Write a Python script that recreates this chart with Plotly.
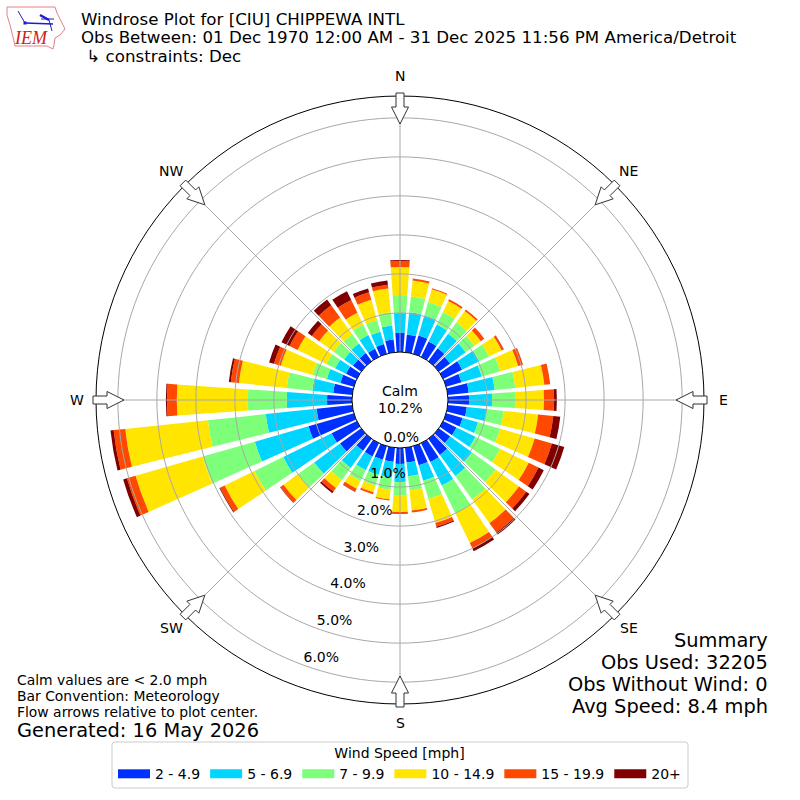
import math
import plotly.graph_objects as go

# percent of observations in each 10 degree bin, one list per speed class
directions = list(range(0, 360, 10))
speed_2_5 = [.49, .46, .49, .44, .41, .36, .54, .41, .54, .54, .49, .44, .38, .36, .51, .54, .51, .38,
             .41, .36, .36, .38, .38, .67, .72, 1.21, .92, .64, .49, .36, .31, .26, .26, .23, .26, .33]
speed_5_7 = [.51, .57, .54, .48, .46, .49, .49, .54, .67, .59, .51, .41, .54, .69, .67, .67, .41, .36,
             .46, .41, .41, .39, .54, .82, 1.38, 1.43, 1.31, 1.03, .54, .36, .31, .28, .30, .39, .33, .36]
speed_7_10 = [.46, .41, .35, .36, .36, .28, .28, .49, .53, .59, .44, .59, .70, .75, .74, .79, .49, .36,
              .34, .31, .28, .31, .39, .51, .82, 1.39, 1.49, 1.00, .66, .38, .25, .33, .29, .30, .31, .34]
speed_10_15 = [.72, .41, .34, .31, .36, .20, .36, .48, .75, .74, .89, .92, .82, .74, .75, .85, .64, .52,
               .43, .25, .18, .22, .25, .46, .85, 1.79, 2.13, 1.82, 1.23, .85, .82, .46, .53, .34, .54, .61]
speed_15_20 = [.15, .05, .03, .05, .05, .11, .05, .13, .15, .26, .39, .46, .28, .23, .30, .15, .10, .05,
               .05, .03, .05, .08, .11, .10, .13, .23, .30, .25, .21, .18, .23, .23, .39, .36, .20, .10]
speed_20_up = [.03, 0, 0, 0, 0, 0, .01, 0, 0, .07, .18, .33, .15, .10, .06, .08, .03, 0,
               0, 0, 0, .01, .05, .01, .02, .10, .08, .03, .05, .13, .23, .13, .18, .25, .10, .11]

series = [speed_2_5, speed_5_7, speed_7_10, speed_10_15, speed_15_20, speed_20_up]
labels = ["2 - 4.9", "5 - 6.9", "7 - 9.9", "10 - 14.9", "15 - 19.9", "20+"]
colors = ["#0030ff", "#00d5ff", "#7dff7a", "#ffe500", "#ff4800", "#800000"]

compass_deg = [0, 45, 90, 135, 180, 225, 270, 315]
compass_txt = ["N", "NE", "E", "SE", "S", "SW", "W", "NW"]
ring_pct = [0, 1, 2, 3, 4, 5, 6]
ring_txt = ["0.0%", "1.0%", "2.0%", "3.0%", "4.0%", "5.0%", "6.0%"]

FONT = "DejaVu Sans"
GRID = "#a8a8a8"
R_MAX = 6.56
CX, CY, R_PX = 400, 400, 304


def px(x, y):
    return x / 800, 1 - y / 800


def note(x, y, text, size, anchor="left"):
    fx, fy = px(x, y)
    fig.add_annotation(x=fx, y=fy, xref="paper", yref="paper", text=text, showarrow=False,
                       xanchor=anchor, yanchor="middle", align=anchor, borderpad=0,
                       font=dict(family=FONT, size=size, color="#000000"))


def svg_path(points, closed=True):
    d = "M" + " L".join(f"{px(x, y)[0]:.5f},{px(x, y)[1]:.5f}" for x, y in points)
    return d + (" Z" if closed else "")


def flow_arrow(deg):
    # outline in (radius px, side px), pointing at the plot center
    outline = [(307, -4), (293, -4), (293, -8.5), (276, 0), (293, 8.5), (293, 4), (307, 4)]
    a = math.radians(deg)
    pts = []
    for r, s in outline:
        pts.append((CX + r * math.sin(a) + s * math.cos(a), CY - r * math.cos(a) + s * math.sin(a)))
    return dict(type="path", path=svg_path(pts), xref="paper", yref="paper",
                fillcolor="#ffffff", line=dict(color="#333333", width=1))


def rounded_box(x0, y0, x1, y1, c):
    p = lambda x, y: "%.5f,%.5f" % px(x, y)
    return ("M" + p(x0 + c, y0) + " L" + p(x1 - c, y0) + " Q" + p(x1, y0) + " " + p(x1, y0 + c)
            + " L" + p(x1, y1 - c) + " Q" + p(x1, y1) + " " + p(x1 - c, y1)
            + " L" + p(x0 + c, y1) + " Q" + p(x0, y1) + " " + p(x0, y1 - c)
            + " L" + p(x0, y0 + c) + " Q" + p(x0, y0) + " " + p(x0 + c, y0) + " Z")


fig = go.Figure()

for vals, name, color in zip(series, labels, colors):
    fig.add_trace(go.Barpolar(r=vals, theta=directions, width=8, name=name, showlegend=False,
                              marker=dict(color=color, line=dict(width=0))))

# grid has to sit over the bars, the axis grid would land underneath
ring_theta = list(range(0, 361, 2))
for pct in ring_pct[1:]:
    fig.add_trace(go.Scatterpolar(r=[pct] * len(ring_theta), theta=ring_theta, mode="lines",
                                  line=dict(color=GRID, width=1), showlegend=False, hoverinfo="skip"))
for deg in compass_deg:
    fig.add_trace(go.Scatterpolar(r=[0, R_MAX], theta=[deg, deg], mode="lines",
                                  line=dict(color=GRID, width=1), showlegend=False, hoverinfo="skip"))

fig.add_trace(go.Scatterpolar(r=ring_pct, theta=[200] * len(ring_pct), text=ring_txt, mode="text",
                              textposition="top right", cliponaxis=False, showlegend=False,
                              textfont=dict(family=FONT, size=14, color="#000000")))

# legend swatches
for name, color in zip(labels, colors):
    fig.add_trace(go.Scatterpolar(r=[None], theta=[None], mode="lines", name=name,
                                  line=dict(color=color, width=9)))

fig.update_layout(
    width=800, height=800, margin=dict(l=0, r=0, t=0, b=0), paper_bgcolor="white",
    font=dict(family=FONT, size=14, color="#000000"),
    polar=dict(
        domain=dict(x=[96 / 800, 704 / 800], y=[96 / 800, 704 / 800]),
        hole=48 / 304, bgcolor="white", barmode="stack", gridshape="circular",
        angularaxis=dict(direction="clockwise", rotation=90, tickmode="array", tickvals=compass_deg,
                         ticktext=compass_txt, showgrid=False, showticklabels=False, ticks="",
                         linecolor="#000000", linewidth=1),
        radialaxis=dict(range=[0, R_MAX], showgrid=False, showticklabels=False, ticks="", showline=False),
    ),
    legend=dict(orientation="h", x=113 / 800, y=1 - 740 / 800, xanchor="left", yanchor="top",
                title=dict(text="Wind Speed [mph]", side="top center", font=dict(size=14)),
                borderwidth=0, bgcolor="rgba(0,0,0,0)", font=dict(family=FONT, size=14), itemwidth=32),
)

# header
note(79.5, 19.5, "Windrose Plot for [CIU] CHIPPEWA INTL", 16.67)
note(79.5, 38, "Obs Between: 01 Dec 1970 12:00 AM - 31 Dec 2025 11:56 PM America/Detroit", 16.67)
note(79.5, 56, " ↳ constraints: Dec", 16.67)

# compass labels sit a fixed distance outside the rim
for deg, txt in zip(compass_deg, compass_txt):
    a = math.radians(deg)
    note(CX + 323.5 * math.sin(a), CY - 0.5 - 323.5 * math.cos(a), txt, 14, "center")

# center label
note(400, 391, "Calm", 14, "center")
note(400, 408, "10.2%", 14, "center")

# footer notes
note(15.5, 680, "Calm values are &lt; 2.0 mph", 13.9)
note(15.5, 696, "Bar Convention: Meteorology", 13.9)
note(15.5, 712, "Flow arrows relative to plot center.", 13.9)
note(15.5, 730, "Generated: 16 May 2026", 19.4)

# summary
note(769, 640, "Summary", 19.4, "right")
note(769, 662, "Obs Used: 32205", 19.4, "right")
note(769, 684, "Obs Without Wind: 0", 19.4, "right")
note(769, 706, "Avg Speed: 8.4 mph", 19.4, "right")

shapes = [flow_arrow(d) for d in compass_deg]
shapes.append(dict(type="path", path=rounded_box(112, 742, 688, 788, 3), xref="paper", yref="paper",
                   line=dict(color="#cccccc", width=1)))

# logo, rough state outline and wind symbol
state = [(7, 7), (55, 7), (57, 13), (63, 25), (65, 29), (60, 35), (55, 38), (54, 45), (53, 49),
         (47, 46), (15, 46), (13, 37), (10, 25), (7, 15)]
shapes.append(dict(type="path", path=svg_path(state), xref="paper", yref="paper",
                   line=dict(color="#e88080", width=1)))
for seg, w in [([(25, 23), (53, 24)], 1.5), ([(18, 11), (25, 23)], 1), ([(40, 15), (49, 20)], 2.5),
               ([(49, 20), (52, 31)], 1), ([(41, 19), (54, 19)], 1), ([(23.5, 23), (26.5, 23)], 3)]:
    shapes.append(dict(type="path", path=svg_path(seg, closed=False), xref="paper", yref="paper",
                       line=dict(color="#1c1cd0", width=w)))
fig.update_layout(shapes=shapes)
fx, fy = px(30.5, 38)
fig.add_annotation(x=fx, y=fy, xref="paper", yref="paper", text="<i>IEM</i>", showarrow=False,
                   xanchor="center", yanchor="middle", borderpad=0,
                   font=dict(family="Liberation Serif", size=18, color="#d02020"))

# page default margin would push the 800 px figure off the window
fig.write_html("out.html", config={"displayModeBar": False},
               post_script="document.body.style.margin='0';")
